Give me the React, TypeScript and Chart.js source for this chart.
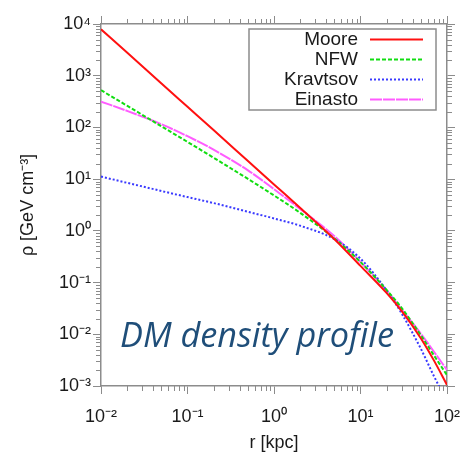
import { useEffect, useRef } from "react";
import { Chart, registerables } from "chart.js";

Chart.register(...registerables);

// ---- data ----
const RADII = [0.01, 0.02, 0.05, 0.1, 0.2, 0.5, 1, 2, 5, 10, 20, 30, 50, 70, 100];
const MOORE = [7900, 2820, 708, 251, 89, 22.4, 7.9, 2.8, 0.69, 0.21, 0.063, 0.028, 0.0083, 0.0032, 0.00105];
const NFW = [525, 263, 105, 52.5, 26, 10.1, 4.84, 2.24, 0.71, 0.25, 0.072, 0.032, 0.0095, 0.004, 0.00162];
const KRAVTSOV = [11.2, 8.5, 5.9, 4.5, 3.45, 2.34, 1.74, 1.26, 0.69, 0.29, 0.071, 0.025, 0.0052, 0.0016, 0.0005];
const EINASTO = [316, 209, 115, 67.6, 37.2, 14.8, 6.4, 2.65, 0.79, 0.25, 0.071, 0.03, 0.0102, 0.0047, 0.00204];
const SERIES_NAMES = ["Moore", "NFW", "Kravtsov", "Einasto"];

const X_TICKS = [0.01, 0.1, 1, 10, 100];
const X_TICK_LABELS = ["10⁻²", "10⁻¹", "10⁰", "10¹", "10²"];
const Y_TICKS = [1e-3, 1e-2, 1e-1, 1, 10, 100, 1000, 10000];
const Y_TICK_LABELS = ["10⁻³", "10⁻²", "10⁻¹", "10⁰", "10¹", "10²", "10³", "10⁴"];

const X_TITLE = "r [kpc]";
const Y_TITLE = "ρ [GeV cm⁻³]";
const CAPTION = "DM density profile";

// ---- styles ----
const FONT = '"Liberation Sans", Arial, Helvetica, sans-serif';
const FRAME = "#8c8c8c";
const TEXT = "#1a1a1a";

const minorTicks = {
  id: "minorTicks",
  afterDraw(chart: any) {
    const { ctx, chartArea: a, scales } = chart;
    const len = 5;
    ctx.save();
    ctx.strokeStyle = FRAME;
    ctx.lineWidth = 1;
    ctx.beginPath();
    const each = (scale: any, fn: (p: number) => void) => {
      const e0 = Math.floor(Math.log10(scale.min));
      const e1 = Math.ceil(Math.log10(scale.max));
      for (let e = e0; e < e1; e++) {
        for (let k = 2; k <= 9; k++) {
          const v = k * Math.pow(10, e);
          if (v <= scale.min || v >= scale.max) continue;
          fn(Math.round(scale.getPixelForValue(v)) + 0.5);
        }
      }
    };
    each(scales.x, (p) => {
      ctx.moveTo(p, a.bottom);
      ctx.lineTo(p, a.bottom + len);
      ctx.moveTo(p, a.top);
      ctx.lineTo(p, a.top - len);
    });
    each(scales.y, (p) => {
      ctx.moveTo(a.left, p);
      ctx.lineTo(a.left - len, p);
      ctx.moveTo(a.right, p);
      ctx.lineTo(a.right + len, p);
    });
    ctx.stroke();
    ctx.restore();
  },
};

const legendBox = {
  id: "legendBox",
  afterDatasetsDraw(chart: any) {
    const { ctx, chartArea: a } = chart;
    const w = 187;
    const h = 81;
    const right = a.right - 11;
    const top = a.top + 5;
    const left = right - w;
    ctx.save();
    ctx.fillStyle = "#ffffff";
    ctx.fillRect(left, top, w, h);
    ctx.strokeStyle = FRAME;
    ctx.lineWidth = 1.5;
    ctx.strokeRect(left, top, w, h);
    ctx.font = `19px ${FONT}`;
    ctx.textAlign = "right";
    ctx.textBaseline = "middle";
    chart.data.datasets.forEach((ds: any, i: number) => {
      const cy = top + 10.5 + i * 20;
      ctx.fillStyle = TEXT;
      ctx.fillText(ds.label, left + 109, cy);
      ctx.beginPath();
      ctx.setLineDash(ds.borderDash || []);
      ctx.strokeStyle = ds.borderColor;
      ctx.lineWidth = ds.borderWidth;
      ctx.moveTo(left + 121, cy);
      ctx.lineTo(left + 174, cy);
      ctx.stroke();
    });
    ctx.restore();
  },
};

const caption = {
  id: "caption",
  afterDraw(chart: any) {
    const { ctx, chartArea: a } = chart;
    ctx.save();
    ctx.font = `italic 32px "Open Sans", sans-serif`;
    const w = ctx.measureText(CAPTION).width;
    const size = (32 * 274) / w;
    ctx.font = `italic ${size.toFixed(2)}px "Open Sans", sans-serif`;
    ctx.fillStyle = "#1f4e79";
    ctx.textAlign = "left";
    ctx.textBaseline = "alphabetic";
    ctx.fillText(CAPTION, a.left + 19, a.bottom - 39);
    ctx.restore();
  },
};

const points = (ys: number[]) => RADII.map((r, i) => ({ x: r, y: ys[i] }));

export default function App() {
  const ref = useRef<HTMLCanvasElement | null>(null);

  useEffect(() => {
    document.body.style.margin = "0";
    const canvas = ref.current;
    if (!canvas) return;

    const frameGrid = {
      drawOnChartArea: false,
      drawTicks: true,
      tickLength: 8,
      color: FRAME,
      lineWidth: 1,
    };
    const border = { color: FRAME, width: 1.5 };

    const chart = new Chart(canvas, {
      type: "line",
      data: {
        datasets: [
          {
            label: SERIES_NAMES[0],
            data: points(MOORE),
            borderColor: "#ff1010",
            borderWidth: 2,
            pointRadius: 0,
            cubicInterpolationMode: "monotone",
          },
          {
            label: SERIES_NAMES[1],
            data: points(NFW),
            borderColor: "#11dd11",
            borderWidth: 2,
            borderDash: [4, 2],
            pointRadius: 0,
            cubicInterpolationMode: "monotone",
          },
          {
            label: SERIES_NAMES[2],
            data: points(KRAVTSOV),
            borderColor: "#3a3aff",
            borderWidth: 2,
            borderDash: [2, 2],
            pointRadius: 0,
            cubicInterpolationMode: "monotone",
          },
          {
            label: SERIES_NAMES[3],
            data: points(EINASTO),
            borderColor: "#ff5cff",
            borderWidth: 2,
            borderDash: [12, 1],
            pointRadius: 0,
            cubicInterpolationMode: "monotone",
          },
        ],
      },
      options: {
        responsive: false,
        animation: false,
        layout: { padding: 0 },
        plugins: {
          legend: { display: false },
          tooltip: { enabled: false },
        },
        scales: {
          x: {
            type: "logarithmic",
            position: "bottom",
            min: 0.01,
            max: 100,
            afterBuildTicks: (s: any) => {
              s.ticks = X_TICKS.map((value) => ({ value }));
            },
            afterFit: (s: any) => {
              s.height = 70;
              s.paddingLeft = 0;
              s.paddingRight = 0;
            },
            grid: frameGrid,
            border,
            ticks: {
              callback: (_v: any, i: number) => X_TICK_LABELS[i] ?? "",
              autoSkip: false,
              maxRotation: 0,
              padding: 12,
              color: TEXT,
              font: { family: FONT, size: 18 },
            },
            title: {
              display: true,
              text: X_TITLE,
              color: TEXT,
              font: { family: FONT, size: 18 },
              padding: { top: 0, bottom: 2 },
            },
          },
          x2: {
            type: "logarithmic",
            axis: "x",
            position: "top",
            min: 0.01,
            max: 100,
            afterBuildTicks: (s: any) => {
              s.ticks = X_TICKS.map((value) => ({ value }));
            },
            afterFit: (s: any) => {
              s.height = 24;
              s.paddingLeft = 0;
              s.paddingRight = 0;
            },
            grid: frameGrid,
            border,
            ticks: { display: false },
          },
          y: {
            type: "logarithmic",
            position: "left",
            min: 1e-3,
            max: 1e4,
            afterBuildTicks: (s: any) => {
              s.ticks = Y_TICKS.map((value) => ({ value }));
            },
            afterFit: (s: any) => {
              s.width = 101;
              s.paddingTop = 0;
              s.paddingBottom = 0;
            },
            grid: frameGrid,
            border,
            ticks: {
              callback: (_v: any, i: number) => Y_TICK_LABELS[i] ?? "",
              autoSkip: false,
              padding: 2,
              color: TEXT,
              font: { family: FONT, size: 18 },
            },
            title: {
              display: true,
              text: Y_TITLE,
              color: TEXT,
              font: { family: FONT, size: 18 },
              padding: { top: 17, bottom: 0 },
            },
          },
          y2: {
            type: "logarithmic",
            axis: "y",
            position: "right",
            min: 1e-3,
            max: 1e4,
            afterBuildTicks: (s: any) => {
              s.ticks = Y_TICKS.map((value) => ({ value }));
            },
            afterFit: (s: any) => {
              s.width = 19;
              s.paddingTop = 0;
              s.paddingBottom = 0;
            },
            grid: frameGrid,
            border,
            ticks: { display: false },
          },
        },
      } as any,
      plugins: [minorTicks, legendBox, caption],
    });

    return () => chart.destroy();
  }, []);

  return (
    <div style={{ width: 466, height: 456, background: "#ffffff" }}>
      <canvas ref={ref} width={466} height={456} />
    </div>
  );
}
